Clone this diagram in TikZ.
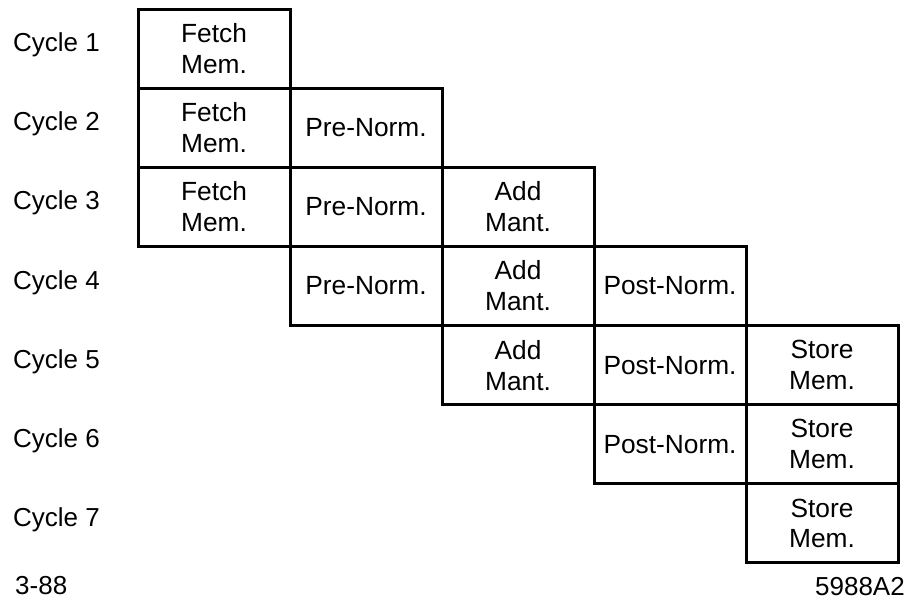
\documentclass[tikz,border=0pt]{standalone}
\usepackage{fontspec}
\setmainfont{Liberation Sans}
\usetikzlibrary{positioning}
\tikzset{stage/.style = {draw, line width=3pt, minimum width=152pt,
                         minimum height=79.1pt, inner sep=0pt, align=center,
                         font=\fontsize{26.3}{31}\selectfont}}
\tikzset{lbl/.style = {inner sep=0pt, font=\fontsize{26}{31}\selectfont}}

\begin{document}
\begin{tikzpicture}[x=1pt,y=-1pt]
      \useasboundingbox (0,0) rectangle (912,607);

      % Each stage occupies three consecutive cycles
      \foreach \s/\txt [count=\c] in {f/Fetch\\Mem., p/Pre-Norm., a/Add\\Mant., q/Post-Norm., s/Store\\Mem.} {
        \foreach \k in {0,1,2} {
          \pgfmathtruncatemacro{\r}{\c+\k}
          \node[stage] (\s\r) at ({214+152*(\c-1)}, {48.6+79.14*(\r-1)}) {\txt};
        }
      }

      % Cycle numbers on the left
      \foreach \r in {1,...,7}
        \node[lbl, anchor=base west] (cyc\r) at (13, {51.6+79.14*(\r-1)}) {Cycle \r};

      \node[lbl, anchor=base west] (date) at (15, 594) {3-88};
      \node[lbl, anchor=base east] (fig) at (905, 595) {5988A2};
    \end{tikzpicture}
\end{document}
